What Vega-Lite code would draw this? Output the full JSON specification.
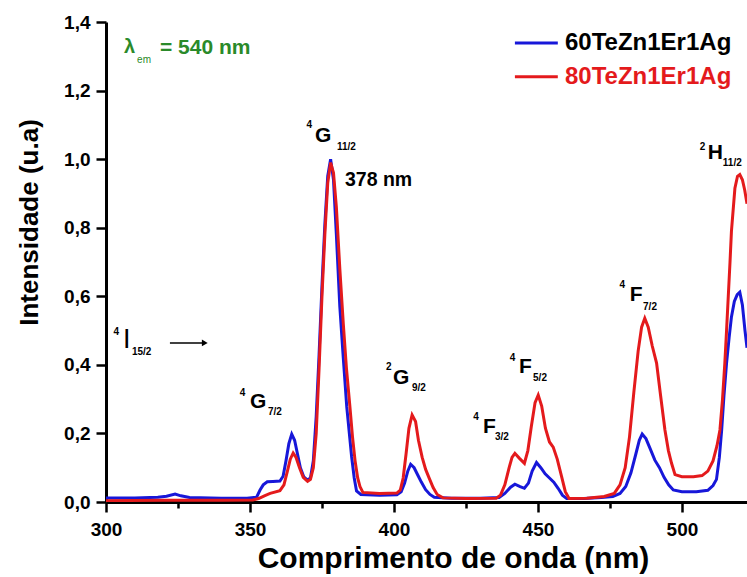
{
  "$schema": "https://vega.github.io/schema/vega-lite/v6.json",
  "autosize": "none",
  "width": 641,
  "height": 480,
  "padding": {"left": 106, "top": 22, "right": 0, "bottom": 75},
  "background": "white",
  "config": {
    "view": {"stroke": null},
    "font": "Liberation Sans",
    "axis": {
      "domainColor": "black", "domainWidth": 3, "tickColor": "black", "tickWidth": 2.5,
      "labelFont": "Liberation Sans", "labelFontWeight": "bold", "labelFontSize": 19, "labelColor": "black",
      "labelFlush": false,
      "titleFont": "Liberation Sans", "titleFontWeight": "bold", "titleColor": "black", "grid": false
    }
  },
  "datasets": {
    "spectra": [
      {"s":"60TeZn1Er1Ag","nm":300,"I":0.012},{"s":"60TeZn1Er1Ag","nm":310,"I":0.012},{"s":"60TeZn1Er1Ag","nm":318,"I":0.014},{"s":"60TeZn1Er1Ag","nm":321,"I":0.017},{"s":"60TeZn1Er1Ag","nm":324,"I":0.023},{"s":"60TeZn1Er1Ag","nm":326,"I":0.018},{"s":"60TeZn1Er1Ag","nm":329,"I":0.013},{"s":"60TeZn1Er1Ag","nm":340,"I":0.011},{"s":"60TeZn1Er1Ag","nm":349,"I":0.011},{"s":"60TeZn1Er1Ag","nm":352.3,"I":0.014},{"s":"60TeZn1Er1Ag","nm":353.5,"I":0.035},{"s":"60TeZn1Er1Ag","nm":354.6,"I":0.05},{"s":"60TeZn1Er1Ag","nm":356,"I":0.059},{"s":"60TeZn1Er1Ag","nm":358,"I":0.06},{"s":"60TeZn1Er1Ag","nm":360.4,"I":0.061},{"s":"60TeZn1Er1Ag","nm":361.5,"I":0.075},{"s":"60TeZn1Er1Ag","nm":362.5,"I":0.12},{"s":"60TeZn1Er1Ag","nm":363.5,"I":0.17},{"s":"60TeZn1Er1Ag","nm":364.5,"I":0.198},{"s":"60TeZn1Er1Ag","nm":365.5,"I":0.18},{"s":"60TeZn1Er1Ag","nm":366.5,"I":0.14},{"s":"60TeZn1Er1Ag","nm":367.5,"I":0.1},{"s":"60TeZn1Er1Ag","nm":368.7,"I":0.073},{"s":"60TeZn1Er1Ag","nm":370,"I":0.064},{"s":"60TeZn1Er1Ag","nm":371,"I":0.07},{"s":"60TeZn1Er1Ag","nm":372,"I":0.12},{"s":"60TeZn1Er1Ag","nm":373,"I":0.25},{"s":"60TeZn1Er1Ag","nm":374,"I":0.43},{"s":"60TeZn1Er1Ag","nm":375,"I":0.63},{"s":"60TeZn1Er1Ag","nm":376,"I":0.81},{"s":"60TeZn1Er1Ag","nm":377,"I":0.95},{"s":"60TeZn1Er1Ag","nm":378,"I":1.0},{"s":"60TeZn1Er1Ag","nm":379,"I":0.94},{"s":"60TeZn1Er1Ag","nm":380,"I":0.78},{"s":"60TeZn1Er1Ag","nm":381.2,"I":0.57},{"s":"60TeZn1Er1Ag","nm":382.4,"I":0.42},{"s":"60TeZn1Er1Ag","nm":383.6,"I":0.278},{"s":"60TeZn1Er1Ag","nm":385.3,"I":0.132},{"s":"60TeZn1Er1Ag","nm":386.2,"I":0.07},{"s":"60TeZn1Er1Ag","nm":387,"I":0.032},{"s":"60TeZn1Er1Ag","nm":388.5,"I":0.022},{"s":"60TeZn1Er1Ag","nm":395,"I":0.02},{"s":"60TeZn1Er1Ag","nm":401,"I":0.021},{"s":"60TeZn1Er1Ag","nm":402.5,"I":0.03},{"s":"60TeZn1Er1Ag","nm":403.7,"I":0.055},{"s":"60TeZn1Er1Ag","nm":404.8,"I":0.09},{"s":"60TeZn1Er1Ag","nm":405.8,"I":0.11},{"s":"60TeZn1Er1Ag","nm":407,"I":0.1},{"s":"60TeZn1Er1Ag","nm":408.3,"I":0.078},{"s":"60TeZn1Er1Ag","nm":409.5,"I":0.058},{"s":"60TeZn1Er1Ag","nm":411,"I":0.036},{"s":"60TeZn1Er1Ag","nm":412.5,"I":0.022},{"s":"60TeZn1Er1Ag","nm":414,"I":0.014},{"s":"60TeZn1Er1Ag","nm":420,"I":0.011},{"s":"60TeZn1Er1Ag","nm":430,"I":0.011},{"s":"60TeZn1Er1Ag","nm":436.5,"I":0.013},{"s":"60TeZn1Er1Ag","nm":438.5,"I":0.025},{"s":"60TeZn1Er1Ag","nm":440.5,"I":0.043},{"s":"60TeZn1Er1Ag","nm":442,"I":0.052},{"s":"60TeZn1Er1Ag","nm":443.8,"I":0.045},{"s":"60TeZn1Er1Ag","nm":445.3,"I":0.04},{"s":"60TeZn1Er1Ag","nm":446.7,"I":0.055},{"s":"60TeZn1Er1Ag","nm":448,"I":0.09},{"s":"60TeZn1Er1Ag","nm":449.5,"I":0.115},{"s":"60TeZn1Er1Ag","nm":451,"I":0.1},{"s":"60TeZn1Er1Ag","nm":452.5,"I":0.082},{"s":"60TeZn1Er1Ag","nm":454,"I":0.07},{"s":"60TeZn1Er1Ag","nm":455.5,"I":0.058},{"s":"60TeZn1Er1Ag","nm":457,"I":0.04},{"s":"60TeZn1Er1Ag","nm":458.5,"I":0.02},{"s":"60TeZn1Er1Ag","nm":460,"I":0.01},{"s":"60TeZn1Er1Ag","nm":466,"I":0.01},{"s":"60TeZn1Er1Ag","nm":472,"I":0.013},{"s":"60TeZn1Er1Ag","nm":476,"I":0.016},{"s":"60TeZn1Er1Ag","nm":478.5,"I":0.025},{"s":"60TeZn1Er1Ag","nm":480.5,"I":0.045},{"s":"60TeZn1Er1Ag","nm":482.3,"I":0.085},{"s":"60TeZn1Er1Ag","nm":484,"I":0.14},{"s":"60TeZn1Er1Ag","nm":485.2,"I":0.18},{"s":"60TeZn1Er1Ag","nm":486.2,"I":0.198},{"s":"60TeZn1Er1Ag","nm":487.5,"I":0.185},{"s":"60TeZn1Er1Ag","nm":489,"I":0.155},{"s":"60TeZn1Er1Ag","nm":490.6,"I":0.122},{"s":"60TeZn1Er1Ag","nm":492.2,"I":0.1},{"s":"60TeZn1Er1Ag","nm":493.8,"I":0.072},{"s":"60TeZn1Er1Ag","nm":495.4,"I":0.05},{"s":"60TeZn1Er1Ag","nm":497,"I":0.035},{"s":"60TeZn1Er1Ag","nm":500,"I":0.03},{"s":"60TeZn1Er1Ag","nm":505,"I":0.03},{"s":"60TeZn1Er1Ag","nm":509,"I":0.034},{"s":"60TeZn1Er1Ag","nm":510.8,"I":0.048},{"s":"60TeZn1Er1Ag","nm":512,"I":0.066},{"s":"60TeZn1Er1Ag","nm":513,"I":0.13},{"s":"60TeZn1Er1Ag","nm":513.8,"I":0.21},{"s":"60TeZn1Er1Ag","nm":514.6,"I":0.31},{"s":"60TeZn1Er1Ag","nm":515.5,"I":0.405},{"s":"60TeZn1Er1Ag","nm":516.4,"I":0.48},{"s":"60TeZn1Er1Ag","nm":517.2,"I":0.54},{"s":"60TeZn1Er1Ag","nm":518.2,"I":0.585},{"s":"60TeZn1Er1Ag","nm":519.2,"I":0.605},{"s":"60TeZn1Er1Ag","nm":520.1,"I":0.612},{"s":"60TeZn1Er1Ag","nm":521,"I":0.575},{"s":"60TeZn1Er1Ag","nm":521.9,"I":0.5},{"s":"60TeZn1Er1Ag","nm":522.6,"I":0.45},
      {"s":"80TeZn1Er1Ag","nm":300,"I":0.004},{"s":"80TeZn1Er1Ag","nm":320,"I":0.005},{"s":"80TeZn1Er1Ag","nm":340,"I":0.005},{"s":"80TeZn1Er1Ag","nm":351,"I":0.006},{"s":"80TeZn1Er1Ag","nm":353,"I":0.01},{"s":"80TeZn1Er1Ag","nm":355,"I":0.018},{"s":"80TeZn1Er1Ag","nm":357,"I":0.025},{"s":"80TeZn1Er1Ag","nm":360.4,"I":0.033},{"s":"80TeZn1Er1Ag","nm":361.8,"I":0.05},{"s":"80TeZn1Er1Ag","nm":363,"I":0.09},{"s":"80TeZn1Er1Ag","nm":364,"I":0.125},{"s":"80TeZn1Er1Ag","nm":365,"I":0.143},{"s":"80TeZn1Er1Ag","nm":366,"I":0.13},{"s":"80TeZn1Er1Ag","nm":367.2,"I":0.1},{"s":"80TeZn1Er1Ag","nm":368.5,"I":0.072},{"s":"80TeZn1Er1Ag","nm":370,"I":0.06},{"s":"80TeZn1Er1Ag","nm":371,"I":0.066},{"s":"80TeZn1Er1Ag","nm":372,"I":0.1},{"s":"80TeZn1Er1Ag","nm":373,"I":0.2},{"s":"80TeZn1Er1Ag","nm":374,"I":0.39},{"s":"80TeZn1Er1Ag","nm":375,"I":0.6},{"s":"80TeZn1Er1Ag","nm":376,"I":0.78},{"s":"80TeZn1Er1Ag","nm":377,"I":0.93},{"s":"80TeZn1Er1Ag","nm":378,"I":0.99},{"s":"80TeZn1Er1Ag","nm":379,"I":0.96},{"s":"80TeZn1Er1Ag","nm":380,"I":0.86},{"s":"80TeZn1Er1Ag","nm":381.2,"I":0.68},{"s":"80TeZn1Er1Ag","nm":382.4,"I":0.52},{"s":"80TeZn1Er1Ag","nm":383.5,"I":0.39},{"s":"80TeZn1Er1Ag","nm":384.7,"I":0.278},{"s":"80TeZn1Er1Ag","nm":385.6,"I":0.19},{"s":"80TeZn1Er1Ag","nm":386.5,"I":0.12},{"s":"80TeZn1Er1Ag","nm":387.4,"I":0.07},{"s":"80TeZn1Er1Ag","nm":388.2,"I":0.045},{"s":"80TeZn1Er1Ag","nm":389.2,"I":0.028},{"s":"80TeZn1Er1Ag","nm":395,"I":0.025},{"s":"80TeZn1Er1Ag","nm":401,"I":0.026},{"s":"80TeZn1Er1Ag","nm":402.2,"I":0.035},{"s":"80TeZn1Er1Ag","nm":403.2,"I":0.07},{"s":"80TeZn1Er1Ag","nm":404.2,"I":0.14},{"s":"80TeZn1Er1Ag","nm":405.2,"I":0.215},{"s":"80TeZn1Er1Ag","nm":406.3,"I":0.254},{"s":"80TeZn1Er1Ag","nm":407.5,"I":0.235},{"s":"80TeZn1Er1Ag","nm":408.5,"I":0.18},{"s":"80TeZn1Er1Ag","nm":409.8,"I":0.13},{"s":"80TeZn1Er1Ag","nm":411,"I":0.095},{"s":"80TeZn1Er1Ag","nm":412.3,"I":0.068},{"s":"80TeZn1Er1Ag","nm":413.6,"I":0.042},{"s":"80TeZn1Er1Ag","nm":415,"I":0.022},{"s":"80TeZn1Er1Ag","nm":417,"I":0.012},{"s":"80TeZn1Er1Ag","nm":425,"I":0.01},{"s":"80TeZn1Er1Ag","nm":435.5,"I":0.011},{"s":"80TeZn1Er1Ag","nm":437,"I":0.02},{"s":"80TeZn1Er1Ag","nm":438.5,"I":0.05},{"s":"80TeZn1Er1Ag","nm":440,"I":0.1},{"s":"80TeZn1Er1Ag","nm":441,"I":0.13},{"s":"80TeZn1Er1Ag","nm":442,"I":0.142},{"s":"80TeZn1Er1Ag","nm":443.5,"I":0.128},{"s":"80TeZn1Er1Ag","nm":445.3,"I":0.113},{"s":"80TeZn1Er1Ag","nm":446.5,"I":0.15},{"s":"80TeZn1Er1Ag","nm":447.7,"I":0.22},{"s":"80TeZn1Er1Ag","nm":449,"I":0.29},{"s":"80TeZn1Er1Ag","nm":450.1,"I":0.312},{"s":"80TeZn1Er1Ag","nm":451.3,"I":0.28},{"s":"80TeZn1Er1Ag","nm":452.6,"I":0.215},{"s":"80TeZn1Er1Ag","nm":454,"I":0.175},{"s":"80TeZn1Er1Ag","nm":455.3,"I":0.16},{"s":"80TeZn1Er1Ag","nm":456.7,"I":0.125},{"s":"80TeZn1Er1Ag","nm":458.2,"I":0.075},{"s":"80TeZn1Er1Ag","nm":459.5,"I":0.03},{"s":"80TeZn1Er1Ag","nm":460.8,"I":0.01},{"s":"80TeZn1Er1Ag","nm":467,"I":0.011},{"s":"80TeZn1Er1Ag","nm":473,"I":0.016},{"s":"80TeZn1Er1Ag","nm":476.5,"I":0.025},{"s":"80TeZn1Er1Ag","nm":478.5,"I":0.05},{"s":"80TeZn1Er1Ag","nm":480.3,"I":0.1},{"s":"80TeZn1Er1Ag","nm":481.8,"I":0.19},{"s":"80TeZn1Er1Ag","nm":483.3,"I":0.32},{"s":"80TeZn1Er1Ag","nm":484.8,"I":0.44},{"s":"80TeZn1Er1Ag","nm":486,"I":0.51},{"s":"80TeZn1Er1Ag","nm":487.1,"I":0.536},{"s":"80TeZn1Er1Ag","nm":488.3,"I":0.51},{"s":"80TeZn1Er1Ag","nm":489.7,"I":0.455},{"s":"80TeZn1Er1Ag","nm":491.2,"I":0.405},{"s":"80TeZn1Er1Ag","nm":492.6,"I":0.31},{"s":"80TeZn1Er1Ag","nm":494.1,"I":0.21},{"s":"80TeZn1Er1Ag","nm":495.3,"I":0.15},{"s":"80TeZn1Er1Ag","nm":496.4,"I":0.113},{"s":"80TeZn1Er1Ag","nm":497.6,"I":0.08},{"s":"80TeZn1Er1Ag","nm":500,"I":0.074},{"s":"80TeZn1Er1Ag","nm":504,"I":0.074},{"s":"80TeZn1Er1Ag","nm":507,"I":0.077},{"s":"80TeZn1Er1Ag","nm":509,"I":0.09},{"s":"80TeZn1Er1Ag","nm":510.8,"I":0.12},{"s":"80TeZn1Er1Ag","nm":512.2,"I":0.165},{"s":"80TeZn1Er1Ag","nm":513.2,"I":0.21},{"s":"80TeZn1Er1Ag","nm":514.1,"I":0.3},{"s":"80TeZn1Er1Ag","nm":514.9,"I":0.405},{"s":"80TeZn1Er1Ag","nm":515.5,"I":0.5},{"s":"80TeZn1Er1Ag","nm":516.1,"I":0.6},{"s":"80TeZn1Er1Ag","nm":516.7,"I":0.7},{"s":"80TeZn1Er1Ag","nm":517.2,"I":0.79},{"s":"80TeZn1Er1Ag","nm":518.4,"I":0.915},{"s":"80TeZn1Er1Ag","nm":519.3,"I":0.95},{"s":"80TeZn1Er1Ag","nm":520.1,"I":0.955},{"s":"80TeZn1Er1Ag","nm":521,"I":0.94},{"s":"80TeZn1Er1Ag","nm":521.8,"I":0.91},{"s":"80TeZn1Er1Ag","nm":522.6,"I":0.87}
    ],
    "legendRows": [
      {"s":"60TeZn1Er1Ag","x1":442.0,"x2":456.9,"xt":459.4,"y":1.339},
      {"s":"80TeZn1Er1Ag","x1":442.0,"x2":456.9,"xt":459.4,"y":1.240}
    ],
    "bigLetters": [
      {"t":"G","x":372.6,"y":1.0675},
      {"t":"G","x":350.0,"y":0.2917},
      {"t":"G","x":399.65,"y":0.3617},
      {"t":"F","x":430.9,"y":0.2196},
      {"t":"F","x":443.4,"y":0.3937},
      {"t":"F","x":481.9,"y":0.6037},
      {"t":"H","x":509.0,"y":1.018}
    ],
    "supers": [
      {"t":"4","x":370.6,"y":1.0996},
      {"t":"4","x":303.6,"y":0.496},
      {"t":"4","x":347.4,"y":0.318},
      {"t":"2","x":398.2,"y":0.3946},
      {"t":"4","x":428.5,"y":0.2488},
      {"t":"4","x":441.2,"y":0.42},
      {"t":"4","x":479.3,"y":0.633},
      {"t":"2","x":507.2,"y":1.036}
    ],
    "subs": [
      {"t":"11/2","x":380.2,"y":1.035},
      {"t":"15/2","x":309.0,"y":0.4375},
      {"t":"7/2","x":356.25,"y":0.2625},
      {"t":"9/2","x":406.25,"y":0.3325},
      {"t":"3/2","x":435.1,"y":0.1905},
      {"t":"5/2","x":448.3,"y":0.3617},
      {"t":"7/2","x":486.5,"y":0.5696},
      {"t":"11/2","x":514.2,"y":0.989}
    ]
  },
  "layer": [
    {
      "data": {"name": "spectra"},
      "mark": {"type": "line", "strokeWidth": 3, "clip": true},
      "encoding": {
        "x": {"field": "nm", "type": "quantitative",
          "scale": {"domain": [300, 522.6], "nice": false, "zero": false},
          "axis": {
            "values": [300, 325, 350, 375, 400, 425, 450, 475, 500],
            "labelExpr": "datum.value % 50 === 0 ? datum.label : ''",
            "tickSize": {"condition": {"test": "datum.value % 50 === 0", "value": 10}, "value": 6},
            "labelPadding": 8,
            "title": "Comprimento de onda (nm)", "titleFontSize": 30, "titlePadding": 4,
            "titleX": 347, "titleAlign": "center"
          }},
        "y": {"field": "I", "type": "quantitative",
          "scale": {"domain": [0, 1.4], "nice": false},
          "axis": {
            "values": [0, 0.1, 0.2, 0.3, 0.4, 0.5, 0.6, 0.7, 0.8, 0.9, 1.0, 1.1, 1.2, 1.3, 1.4],
            "labelExpr": "round(datum.value * 10) % 2 === 0 ? replace(format(datum.value, '.1f'), '.', ',') : ''",
            "tickSize": {"condition": {"test": "round(datum.value * 10) % 2 === 0", "value": 10}, "value": 5},
            "labelPadding": 6,
            "title": "Intensidade (u.a)", "titleFontSize": 26, "titlePadding": 21,
            "titleY": 200, "titleAlign": "center"
          }},
        "color": {"field": "s", "type": "nominal",
          "scale": {"domain": ["60TeZn1Er1Ag", "80TeZn1Er1Ag"], "range": ["#1717d9", "#e41a1c"]},
          "legend": null}
      }
    },
    {
      "mark": {"type": "rule", "strokeWidth": 3, "color": "black"},
      "encoding": {"y": {"datum": 1.4}}
    },
    {
      "data": {"name": "legendRows"},
      "mark": {"type": "rule", "strokeWidth": 3},
      "encoding": {
        "x": {"field": "x1", "type": "quantitative"},
        "x2": {"field": "x2"},
        "y": {"field": "y", "type": "quantitative"},
        "color": {"field": "s", "type": "nominal", "legend": null}
      }
    },
    {
      "data": {"name": "legendRows"},
      "mark": {"type": "text", "align": "left", "baseline": "middle", "fontSize": 24, "fontWeight": "bold", "font": "Liberation Sans"},
      "encoding": {
        "x": {"field": "xt", "type": "quantitative"},
        "y": {"field": "y", "type": "quantitative"},
        "text": {"field": "s"},
        "color": {"condition": {"test": "datum.s === '80TeZn1Er1Ag'", "value": "#e41a1c"}, "value": "black"}
      }
    },
    {
      "data": {"values": [{"t": "λ", "x": 306.25, "y": 1.327}]},
      "mark": {"type": "text", "align": "left", "baseline": "middle", "fontSize": 20, "fontWeight": "bold", "color": "#2a8a2a"},
      "encoding": {"x": {"field": "x", "type": "quantitative"}, "y": {"field": "y", "type": "quantitative"}, "text": {"field": "t"}}
    },
    {
      "data": {"values": [{"t": "em", "x": 310.8, "y": 1.29}]},
      "mark": {"type": "text", "align": "left", "baseline": "middle", "fontSize": 10, "color": "#2a8a2a"},
      "encoding": {"x": {"field": "x", "type": "quantitative"}, "y": {"field": "y", "type": "quantitative"}, "text": {"field": "t"}}
    },
    {
      "data": {"values": [{"t": "= 540 nm", "x": 318.75, "y": 1.325}]},
      "mark": {"type": "text", "align": "left", "baseline": "middle", "fontSize": 21, "fontWeight": "bold", "color": "#2a8a2a"},
      "encoding": {"x": {"field": "x", "type": "quantitative"}, "y": {"field": "y", "type": "quantitative"}, "text": {"field": "t"}}
    },
    {
      "data": {"values": [{"t": "378 nm", "x": 383.0, "y": 0.939}]},
      "mark": {"type": "text", "align": "left", "baseline": "middle", "fontSize": 19.5, "fontWeight": "bold", "color": "black"},
      "encoding": {"x": {"field": "x", "type": "quantitative"}, "y": {"field": "y", "type": "quantitative"}, "text": {"field": "t"}}
    },
    {
      "data": {"values": [{"t": "I", "x": 305.9, "y": 0.4725}]},
      "mark": {"type": "text", "align": "left", "baseline": "middle", "fontSize": 27, "color": "black"},
      "encoding": {"x": {"field": "x", "type": "quantitative"}, "y": {"field": "y", "type": "quantitative"}, "text": {"field": "t"}}
    },
    {
      "data": {"name": "bigLetters"},
      "mark": {"type": "text", "align": "left", "baseline": "middle", "fontSize": 21, "fontWeight": "bold", "color": "black"},
      "encoding": {"x": {"field": "x", "type": "quantitative"}, "y": {"field": "y", "type": "quantitative"}, "text": {"field": "t"}}
    },
    {
      "data": {"name": "supers"},
      "mark": {"type": "text", "align": "center", "baseline": "middle", "fontSize": 10, "fontWeight": "bold", "color": "black"},
      "encoding": {"x": {"field": "x", "type": "quantitative"}, "y": {"field": "y", "type": "quantitative"}, "text": {"field": "t"}}
    },
    {
      "data": {"name": "subs"},
      "mark": {"type": "text", "align": "left", "baseline": "middle", "fontSize": 10, "fontWeight": "bold", "color": "black"},
      "encoding": {"x": {"field": "x", "type": "quantitative"}, "y": {"field": "y", "type": "quantitative"}, "text": {"field": "t"}}
    },
    {
      "data": {"values": [{"x": 322.2, "x2": 334.0, "y": 0.464}]},
      "mark": {"type": "rule", "strokeWidth": 1.5, "color": "black"},
      "encoding": {"x": {"field": "x", "type": "quantitative"}, "x2": {"field": "x2"}, "y": {"field": "y", "type": "quantitative"}}
    },
    {
      "data": {"values": [{"x": 334.3, "y": 0.464}]},
      "mark": {"type": "point", "shape": "triangle-right", "filled": true, "size": 45, "color": "black", "opacity": 1},
      "encoding": {"x": {"field": "x", "type": "quantitative"}, "y": {"field": "y", "type": "quantitative"}}
    }
  ]
}
